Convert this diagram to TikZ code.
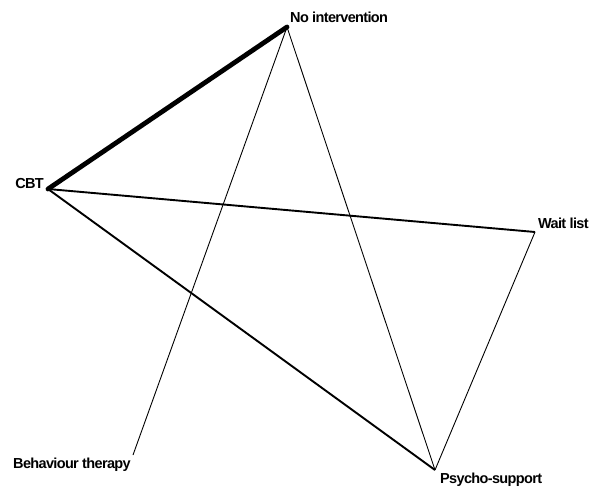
\documentclass[tikz,border=0pt]{standalone}
\usepackage{fontspec}
\setmainfont{Liberation Sans}
\newfontfamily\lblfont[LetterSpace=-4.5]{Liberation Sans}
\begin{document}
\begin{tikzpicture}[x=1pt,y=-1pt,
  lbl/.style={inner sep=0pt,font=\lblfont\fontsize{14.5}{14.5}\selectfont\bfseries},
  thick5/.style={line width=4.8pt,line cap=round},
  mid2/.style={line width=1.9pt},
  thin1/.style={line width=0.9pt}]
\useasboundingbox (0,0) rectangle (608,496);
\fill[white] (0,0) rectangle (608,496);
\coordinate (noi) at (287,27);
\coordinate (cbt) at (48,189);
\coordinate (wait) at (535,232);
\coordinate (beh) at (133,455);
\coordinate (psy) at (435,470);
\draw[thick5] (cbt) -- (noi);
\draw[mid2] (cbt) -- (wait);
\draw[mid2] (cbt) -- (psy);
\draw[thin1] (noi) -- (beh);
\draw[thin1] (noi) -- (psy);
\draw[thin1] (wait) -- (psy);
\node[lbl,anchor=base east] (lcbt) at (44,188) {CBT};
\node[lbl,anchor=base west] (lnoi) at (290,22) {No intervention};
\node[lbl,anchor=base west] (lwait) at (538,228) {Wait list};
\node[lbl,anchor=base west] (lbeh) at (13,468) {Behaviour therapy};
\node[lbl,anchor=base west] (lpsy) at (440,483) {Psycho-support};
\end{tikzpicture}
\end{document}
